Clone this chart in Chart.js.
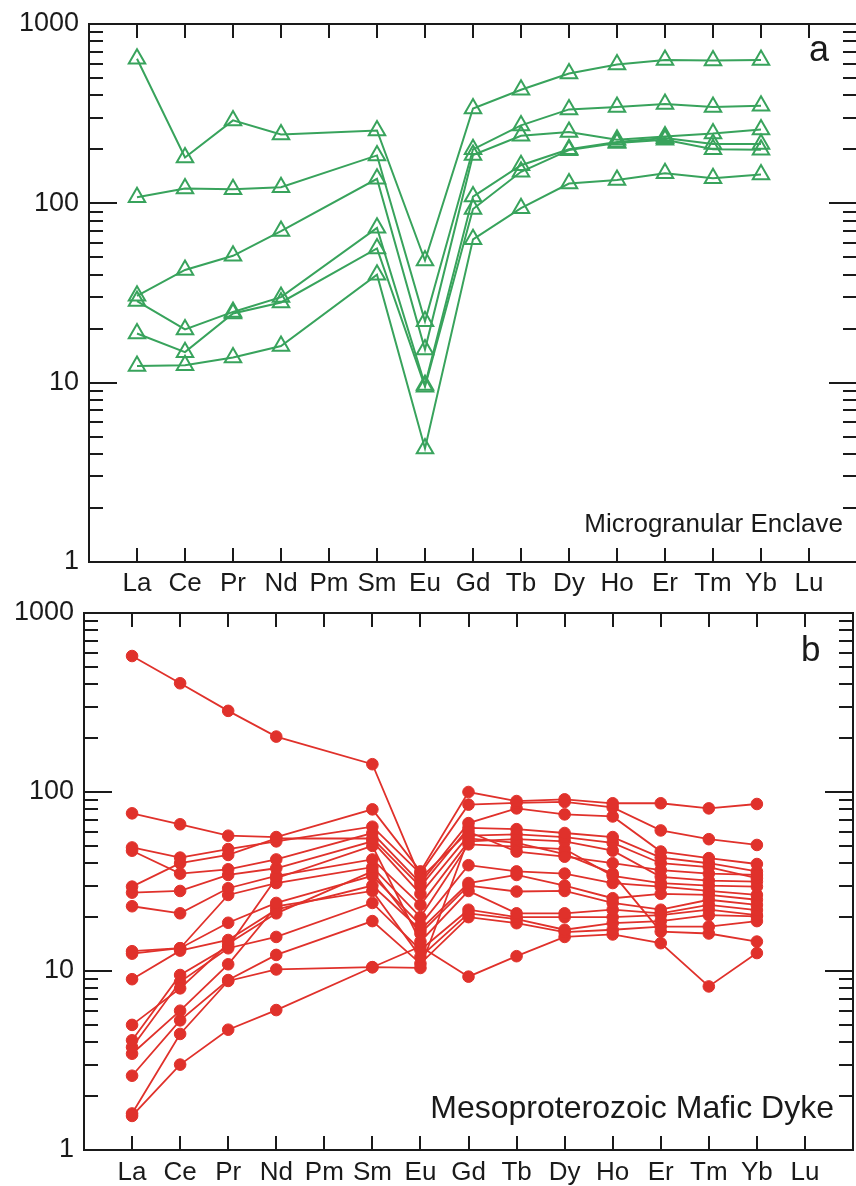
<!DOCTYPE html>
<html><head><meta charset="utf-8">
<script src="https://cdn.jsdelivr.net/npm/chart.js@4.4.0/dist/chart.umd.min.js"></script>
<style>
html,body{margin:0;padding:0;background:#fff;overflow:hidden;width:856px;height:1186px;position:relative;}
.wrap{position:absolute;left:0;}
#wa{top:0;width:860px;height:600px;}
#wb{top:590px;width:856px;height:596px;}
.ann{position:absolute;font-family:"Liberation Sans",Arial,Helvetica,sans-serif;color:#1a1a1a;white-space:nowrap;}
</style></head><body>
<div class="wrap" id="wa"><canvas id="ca"></canvas></div>
<div class="wrap" id="wb"><canvas id="cb"></canvas></div>
<div class="ann" style="left:809px;top:31px;font-size:36px;line-height:36px;">a</div>
<div class="ann" style="right:13px;top:509.5px;font-size:26px;line-height:26px;">Microgranular Enclave</div>
<div class="ann" style="left:801px;top:631px;font-size:35px;line-height:35px;">b</div>
<div class="ann" style="right:22px;top:1091px;font-size:32px;line-height:32px;">Mesoproterozoic Mafic Dyke</div>
<script>
// REE categories (empty slots pad the axis ends)
const elements = ['La','Ce','Pr','Nd','Pm','Sm','Eu','Gd','Tb','Dy','Ho','Er','Tm','Yb','Lu'];
const yTickValues = [1, 10, 100, 1000];

// Panel a: Microgranular Enclave (chondrite-normalized)
const me1 = [640,180,290,242,null,255,48,338,430,530,595,630,625,630,null];
const me2 = [108,121,120,123,null,185,22,200,272,334,345,358,345,350,null];
const me3 = [30.5,42.5,51,70,null,137,15.3,186,238,250,226,236,245,258,null];
const me4 = [28.5,19.8,24.8,30,null,73,9.7,109,163,200,220,231,214,214,null];
const me5 = [18.8,14.8,24.3,28,null,56,9.5,93,150,198,217,226,200,199,null];
const me6 = [12.4,12.5,13.8,16,null,40,4.3,63,94,129,135,147,138,145,null];

// Panel b: Mesoproterozoic Mafic Dyke
const md1 = [575,405,284,204,null,143,33,60,46.5,43.5,40,36.6,35,34.4,null];
const md2 = [76,66,57,56,null,80,36,100,89,91,86.5,86.5,81,85.7,null];
const md3 = [49,43,48,53,null,64,35,85,87,88,82,61,54.5,50.6,null];
const md4 = [47,35,37,42,null,59,31,67,81,75,73,46.5,42.7,39.6,null];
const md5 = [29.6,40,44.5,55,null,55,29.6,63,62,59,56,43,40,36,null];
const md6 = [27.4,28,34.4,37.5,null,53,27,57,58,56,52,40,38,33,null];
const md7 = [23,21,29,34,null,42,23.4,53,54.5,53,47,33.6,32,31.6,null];
const md8 = [12.9,13.4,26.6,31,null,38,20,51,49.5,48,34,31,30,29.6,null];
const md9 = [12.5,13.4,18.6,24,null,34,18.1,39,36,35,31,29.6,28,26.6,null];
const md10 = [9.0,13.0,14.9,22,null,30,17,31,34.4,30,25.5,27,26.6,25,null];
const md11 = [5.0,8.0,14.2,21,null,36,16.2,30,27.8,28,24,22,25,23.4,null];
const md12 = [4.1,9.5,13.7,33,null,50,14.6,28,21,21,22,21,23.4,21.9,null];
const md13 = [3.75,8.7,13.4,15.5,null,24,13.1,22,20,20,20,20.5,22,20.5,null];
const md14 = [3.45,6.0,10.9,23,null,28,12.0,21,19.5,17,18.5,19,20.5,20.2,null];
const md15 = [2.6,5.3,8.9,12.3,null,19,11,20,18.5,16.5,17,17.7,17.7,19,null];
const md16 = [1.6,4.45,8.8,10.2,null,10.5,10.4,55,52,45,35,16.6,16.2,14.6,null];
const md17 = [1.55,3.0,4.7,6.05,null,10.5,13.7,9.3,12.1,15.5,16,14.3,8.2,12.6,null];

const FONT = '"Liberation Sans", Arial, Helvetica, sans-serif';
const GREEN = '#38a35c';
const RED = '#e0312b';
const labels = [''].concat(elements, ['']);
const pad = arr => [null].concat(arr, [null]);

const frameTicks = {
  id: 'frameTicks',
  afterDraw(chart) {
    const {ctx, chartArea: {left, right, top, bottom}, scales: {x, y}} = chart;
    ctx.save();
    ctx.strokeStyle = '#1a1a1a';
    ctx.lineWidth = 2;
    ctx.beginPath();
    for (let i = 1; i <= elements.length; i++) {
      const px = Math.round(x.getPixelForValue(i));
      ctx.moveTo(px, top); ctx.lineTo(px, top + 14);
      ctx.moveTo(px, bottom); ctx.lineTo(px, bottom - 14);
    }
    for (let d = 0; d < 3; d++) {
      for (let m = 1; m <= 9; m++) {
        const v = m * Math.pow(10, d);
        const py = Math.round(y.getPixelForValue(v));
        const len = m === 1 ? 28 : 14;
        ctx.moveTo(left, py); ctx.lineTo(left + len, py);
        ctx.moveTo(right, py); ctx.lineTo(right - len, py);
      }
    }
    ctx.stroke();
    ctx.strokeRect(left, top, right - left, bottom - top);
    ctx.restore();
  }
};

function makeChart(id, series, style, yWidth, xHeight, padding, labelLH) {
  const datasets = series.map(s => ({
    data: pad(s),
    borderColor: style.color,
    borderWidth: style.lineWidth,
    pointStyle: style.pointStyle,
    pointRadius: style.radius,
    pointBorderWidth: style.pointBorder,
    pointBorderColor: style.color,
    pointBackgroundColor: style.fill,
    spanGaps: true,
    tension: 0,
    clip: false
  }));
  return new Chart(document.getElementById(id), {
    type: 'line',
    data: {labels, datasets},
    options: {
      responsive: true,
      maintainAspectRatio: false,
      animation: false,
      events: [],
      layout: {padding, autoPadding: false},
      plugins: {legend: {display: false}, tooltip: {enabled: false}},
      scales: {
        x: {
          type: 'category',
          offset: false,
          grid: {display: false, drawTicks: false},
          border: {display: false},
          ticks: {autoSkip: false, maxRotation: 0, padding: 0, color: '#1a1a1a',
                  font: {family: FONT, size: 26, lineHeight: labelLH}},
          afterFit: s => { s.height = xHeight; s.paddingLeft = 0; s.paddingRight = 0; }
        },
        y: {
          type: 'logarithmic',
          min: 1, max: 1000,
          grid: {display: false, drawTicks: false},
          border: {display: false},
          afterBuildTicks: s => { s.ticks = yTickValues.map(v => ({value: v, major: true})); },
          ticks: {autoSkip: false, padding: 10, color: '#1a1a1a',
                  font: {family: FONT, size: 27},
                  callback: v => String(v)},
          afterFit: s => { s.width = yWidth; s.paddingTop = 0; s.paddingBottom = 0; }
        }
      }
    },
    plugins: [frameTicks]
  });
}

makeChart('ca', [me1, me2, me3, me4, me5, me6],
  {color: GREEN, lineWidth: 2, pointStyle: 'triangle', radius: 9.5, pointBorder: 2, fill: 'rgba(255,255,255,0)'},
  89, 38, {top: 24, left: 0, right: 3, bottom: 0}, '43px');

makeChart('cb', [md1, md2, md3, md4, md5, md6, md7, md8, md9, md10, md11, md12, md13, md14, md15, md16, md17],
  {color: RED, lineWidth: 1.8, pointStyle: 'circle', radius: 5.8, pointBorder: 1, fill: RED},
  84, 36, {top: 23, left: 0, right: 3, bottom: 0}, '46px');
</script>
</body></html>
